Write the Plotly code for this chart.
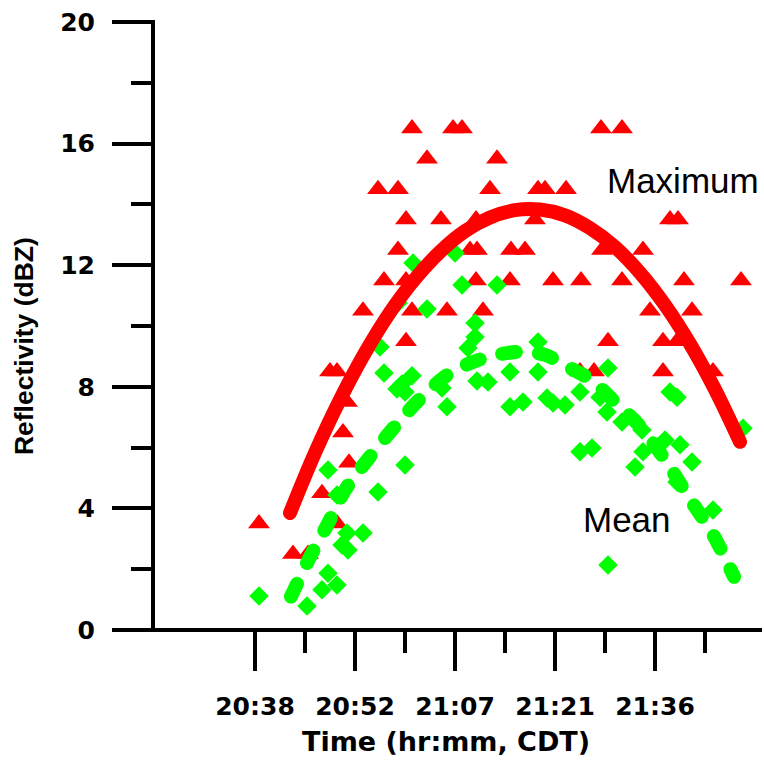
import plotly.graph_objects as go

# ---- data (time as fraction of day, reflectivity in dBZ) ----
time_ticks = [0.86, 0.87, 0.88, 0.89, 0.90]
time_labels = ["20:38", "20:52", "21:07", "21:21", "21:36"]
time_minor = [0.865, 0.875, 0.885, 0.895, 0.905]
dbz_ticks = [0, 4, 8, 12, 16, 20]
dbz_minor = [2, 6, 10, 14, 18]

max_time = [0.8604, 0.8638, 0.8653, 0.8667, 0.8675, 0.8682, 0.8682, 0.8688, 0.8692, 0.8694,
            0.8708, 0.8723, 0.8743, 0.8751, 0.8743, 0.8729, 0.8751, 0.8757, 0.8751, 0.8757,
            0.8772, 0.8786, 0.8792, 0.8798, 0.8807, 0.8815, 0.8822, 0.8821, 0.8821, 0.8828,
            0.8835, 0.8842, 0.8856, 0.8870, 0.8855, 0.8880, 0.8883, 0.8890, 0.8911, 0.8898,
            0.8926, 0.8925, 0.8939, 0.8946, 0.8967, 0.8947, 0.8953, 0.8967, 0.8988, 0.8995,
            0.9008, 0.9008, 0.9015, 0.9023, 0.9022, 0.9029, 0.9037, 0.9058, 0.9086]
max_dbz = [3.5, 2.5, 2.5, 4.5, 8.5, 8.5, 3.5, 6.5, 7.5, 5.5,
           10.5, 14.5, 14.5, 13.5, 12.5, 11.5, 11.5, 10.5, 9.5, 16.5,
           15.5, 13.5, 10.5, 16.5, 16.5, 12.5, 12.5, 13.5, 11.5, 10.5,
           14.5, 15.5, 12.5, 12.5, 11.5, 13.5, 14.5, 14.5, 14.5, 11.5,
           11.5, 8.5, 8.5, 16.5, 16.5, 12.5, 9.5, 11.5, 12.5, 10.5,
           9.5, 8.5, 13.5, 13.5, 9.5, 11.5, 10.5, 8.5, 11.5]

mean_time = [0.8604, 0.8652, 0.8667, 0.8673, 0.8682, 0.8687, 0.8693, 0.8692, 0.8708, 0.8682,
             0.8673, 0.8723, 0.8750, 0.8729, 0.8742, 0.8747, 0.8757, 0.8750, 0.8725, 0.8743,
             0.8758, 0.8772, 0.8800, 0.8807, 0.8842, 0.8820, 0.8820, 0.8813, 0.8787, 0.8792,
             0.8822, 0.8833, 0.8855, 0.8883, 0.8883, 0.8855, 0.8868, 0.8892, 0.8898, 0.8910,
             0.8925, 0.8953, 0.8945, 0.8952, 0.8967, 0.9015, 0.9022, 0.8925, 0.8937, 0.8988,
             0.8980, 0.8987, 0.9010, 0.9025, 0.9037, 0.9022, 0.9058, 0.8953, 0.9088]
mean_dbz = [1.12, 0.79, 1.32, 1.87, 1.48, 2.80, 2.63, 3.19, 3.19, 4.44,
            5.26, 4.54, 5.43, 8.45, 7.93, 8.09, 8.36, 7.83, 9.31, 10.76,
            12.07, 10.56, 12.40, 11.35, 11.35, 10.10, 9.64, 9.28, 7.96, 7.34,
            8.19, 8.16, 8.49, 9.47, 8.49, 7.34, 7.50, 7.63, 7.47, 7.40,
            7.83, 8.62, 7.66, 7.17, 6.84, 7.83, 7.66, 5.86, 5.99, 5.86,
            5.36, 6.58, 6.25, 6.09, 5.53, 4.87, 3.95, 2.14, 6.64]

max_fit_time = [0.8635, 0.8660, 0.8685, 0.8710, 0.8735, 0.8760, 0.8785, 0.8810, 0.8835, 0.8860,
                0.8885, 0.8910, 0.8935, 0.8960, 0.8985, 0.9010, 0.9035, 0.9060, 0.9085]
max_fit_dbz = [3.85, 5.83, 7.58, 9.12, 10.45, 11.55, 12.44, 13.12, 13.57, 13.81,
               13.83, 13.64, 13.22, 12.60, 11.75, 10.69, 9.41, 7.91, 6.19]

mean_fit_time = [0.8636, 0.8655, 0.8673, 0.8690, 0.8715, 0.8740, 0.8765, 0.8795, 0.8825, 0.8850,
                 0.8870, 0.8890, 0.8910, 0.8935, 0.8960, 0.8985, 0.9010, 0.9035, 0.9057, 0.9079]
mean_fit_dbz = [1.1, 2.4, 3.5, 4.6, 5.7, 6.7, 7.6, 8.45, 8.9, 9.1,
                9.15, 9.05, 8.7, 8.25, 7.5, 6.7, 5.6, 4.3, 3.2, 1.75]

RED = "#FF0000"
GREEN = "#00FF00"

fig = go.Figure()
fig.add_trace(go.Scatter(x=max_time, y=max_dbz, mode="markers", name="Maximum",
                         marker=dict(symbol="triangle-up", size=19, color=RED, line=dict(width=0))))
fig.add_trace(go.Scatter(x=mean_time, y=mean_dbz, mode="markers", name="Mean",
                         marker=dict(symbol="diamond", size=15, color=GREEN, line=dict(width=0))))
fig.add_trace(go.Scatter(x=max_fit_time, y=max_fit_dbz, mode="lines", name="Maximum fit",
                         line=dict(color=RED, width=14, shape="spline")))
fig.add_trace(go.Scatter(x=mean_fit_time, y=mean_fit_dbz, mode="lines", name="Mean fit",
                         line=dict(color=GREEN, width=14, shape="spline", dash="14px,23px")))

tickfont = dict(family="DejaVu Sans", size=25, color="black", weight="bold")

fig.update_xaxes(range=[0.8498, 0.9105], showgrid=False, zeroline=False, showline=False,
                 tickmode="array", tickvals=time_ticks, ticktext=time_labels,
                 ticks="outside", ticklen=40, tickwidth=4, tickcolor="black",
                 tickfont=tickfont, ticklabelstandoff=14,
                 minor=dict(tickmode="array", tickvals=time_minor, ticks="outside",
                            ticklen=22, tickwidth=4, tickcolor="black", showgrid=False))
fig.update_yaxes(range=[0, 20], showgrid=False, zeroline=False, showline=False,
                 tickmode="array", tickvals=dbz_ticks,
                 ticks="outside", ticklen=40, tickwidth=4, tickcolor="black",
                 tickfont=tickfont, ticklabelstandoff=12,
                 minor=dict(tickmode="array", tickvals=dbz_minor, ticks="outside",
                            ticklen=21, tickwidth=4, tickcolor="black", showgrid=False))

fig.update_layout(
    width=764, height=760,
    margin=dict(l=153, r=4, t=22, b=130, pad=0),
    plot_bgcolor="white", paper_bgcolor="white",
    showlegend=False,
    shapes=[
        dict(type="line", xref="paper", yref="paper", x0=-0.0214, x1=1.0033, y0=0, y1=0,
             line=dict(color="black", width=4)),
        dict(type="line", xref="paper", yref="paper", x0=0, x1=0, y0=0, y1=1.0033,
             line=dict(color="black", width=4)),
    ],
    annotations=[
        dict(text="Time (hr:mm, CDT)", xref="paper", yref="paper", x=0.4827, y=-0.1842,
             xanchor="center", yanchor="middle", showarrow=False,
             font=dict(family="DejaVu Sans", size=27, color="black", weight="bold")),
        dict(text="Reflectivity (dBZ)", xref="paper", yref="paper", x=-0.2125, y=0.467,
             xanchor="center", yanchor="middle", showarrow=False, textangle=-90,
             font=dict(family="Liberation Sans", size=26.5, color="black", weight="bold")),
        dict(text="Maximum", x=0.9028, y=14.8, xanchor="center", yanchor="middle",
             showarrow=False, font=dict(family="Liberation Sans", size=35, color="black")),
        dict(text="Mean", x=0.8972, y=3.62, xanchor="center", yanchor="middle",
             showarrow=False, font=dict(family="Liberation Sans", size=35, color="black")),
    ],
)

post = ("document.body.style.margin='0';document.body.style.overflow='hidden';"
        "document.querySelectorAll('.scatterlayer .js-line').forEach(function(p){"
        "p.style.strokeLinecap='round';});")
fig.write_html("out.html", post_script=post, config={"displayModeBar": False})
